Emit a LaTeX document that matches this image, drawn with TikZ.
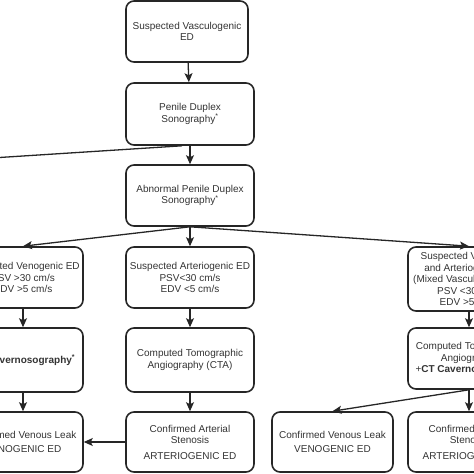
\documentclass[tikz,border=0pt]{standalone}
\usepackage{fontspec}
\setmainfont{Liberation Sans}
\usetikzlibrary{arrows.meta}

\begin{document}
\begin{tikzpicture}[x=1pt,y=-1pt,
    box/.style={draw=black!85, line width=1.6pt, rounded corners=8pt, align=center,
        inner sep=2pt, text=black!80, font=\fontsize{10}{11.5}\selectfont},
    arr/.style={-{Stealth[length=9pt,width=8pt,inset=2pt]}, line width=1.3pt, draw=black!85}]

    \useasboundingbox (0,0) rectangle (474,474);
    \clip (0,0) rectangle (474,474);

    % top of the chart
    \node[box, minimum width=122pt, minimum height=61pt] (vasc) at (187,31.5) {Suspected Vasculogenic\\ED};
    \node[box, minimum width=128pt, minimum height=62pt] (pds) at (190,114) {Penile Duplex\\Sonography\textsuperscript{*}};
    \node[box, minimum width=128pt, minimum height=61pt] (abn) at (190,195.5) {Abnormal Penile Duplex\\Sonography\textsuperscript{*}};
    \coordinate (normal) at (-180,169);

    % suspected causes
    \node[box, minimum width=120pt, minimum height=61pt] (ven) at (23,277.5) {Suspected Venogenic ED\\PSV >30 cm/s\\EDV >5 cm/s};
    \node[box, minimum width=128pt, minimum height=61pt] (art) at (190,277.5) {Suspected Arteriogenic ED\\PSV<30 cm/s\\EDV <5 cm/s};
    \node[box, minimum width=122pt, minimum height=64pt] (mix) at (469,279) {Suspected Venogenic\\and Arteriogenic ED\\(Mixed Vasculogenic ED)\\PSV <30 cm/s\\EDV >5 cm/s};

    % imaging
    \node[box, minimum width=120pt, minimum height=64pt] (cav) at (23,360) {\textbf{CT Cavernosography\textsuperscript{*}}};
    \node[box, minimum width=128pt, minimum height=64pt] (cta) at (190,360) {Computed Tomographic\\Angiography (CTA)};
    \node[box, minimum width=122pt, minimum height=61pt] (ctcav) at (469,358.5) {Computed Tomographic\\Angiography\\+\textbf{CT Cavernosography}};

    % diagnoses
    \node[box, minimum width=120pt, minimum height=60pt] (venleak) at (23,442) {Confirmed Venous Leak\\[2pt]VENOGENIC ED};
    \node[box, minimum width=128pt, minimum height=60pt] (artsten) at (190,442) {Confirmed Arterial\\Stenosis\\[4pt]ARTERIOGENIC ED};
    \node[box, minimum width=121pt, minimum height=60pt] (venleaktwo) at (332.5,442) {Confirmed Venous Leak\\[2pt]VENOGENIC ED};
    \node[box, minimum width=122pt, minimum height=60pt] (artstentwo) at (469,442) {Confirmed Arterial\\Stenosis\\[4pt]ARTERIOGENIC ED};

    \draw[arr] (vasc) -- (pds);
    \draw[arr] (pds) -- (abn);
    \draw[arr] ([xshift=-8pt]pds.south) -- (normal);
    \draw[arr] (abn.south) -- (ven.north);
    \draw[arr] (abn) -- (art);
    \draw[arr] (abn.south) -- (mix.north);
    \draw[arr] (ven) -- (cav);
    \draw[arr] (cav) -- (venleak);
    \draw[arr] (art) -- (cta);
    \draw[arr] (cta) -- (artsten);
    \draw[arr] (artsten) -- (venleak);
    \draw[arr] (mix) -- (ctcav);
    \draw[arr] (ctcav) -- (artstentwo);
    \draw[arr] (ctcav.south) -- (venleaktwo.north);

\end{tikzpicture}
\end{document}
